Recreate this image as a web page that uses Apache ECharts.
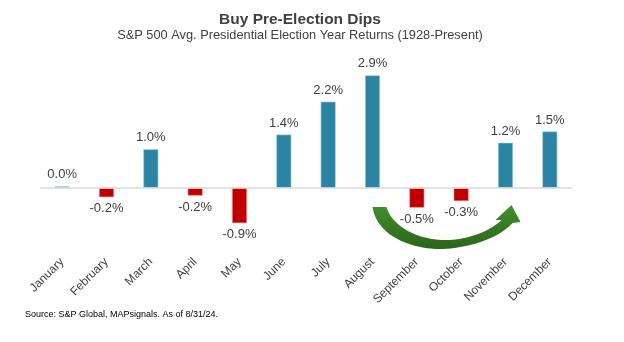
<!DOCTYPE html>
<html>
<head>
<meta charset="utf-8">
<script src="https://cdn.jsdelivr.net/npm/echarts@6/dist/echarts.min.js"></script>
<style>
html,body{margin:0;padding:0;background:#fff;}
#c{width:624px;height:342px;}
</style>
</head>
<body>
<div id="c"></div>
<script>
const months = ['January','February','March','April','May','June','July','August','September','October','November','December'];
const returns = [0.04, -0.24, 1.0, -0.2, -0.91, 1.38, 2.23, 2.91, -0.51, -0.34, 1.17, 1.46];
const titleText = 'Buy Pre-Election Dips';
const subtitleText = 'S&P 500 Avg. Presidential Election Year Returns (1928-Present)';
const sourceText = 'Source: S&P Global, MAPsignals. As of 8/31/24.';

const POS = '#2b84a1', NEG = '#c00000', TXT = '#404040';
const FONT = 'Arial, "Liberation Sans", sans-serif';

const chart = echarts.init(document.getElementById('c'), null, {renderer: 'canvas'});
chart.setOption({
  animation: false,
  backgroundColor: '#fff',
  title: [
    {text: titleText, left: 300, top: 12, textAlign: 'center', padding: 0,
     textStyle: {fontFamily: FONT, fontSize: 15.5, fontWeight: 'bold', color: TXT}},
    {text: subtitleText, left: 300, top: 28.5, textAlign: 'center', padding: 0,
     textStyle: {fontFamily: FONT, fontSize: 12.8, fontWeight: 'normal', color: TXT}},
    {text: sourceText, left: 25, top: 310, padding: 0,
     textStyle: {fontFamily: FONT, fontSize: 9, fontWeight: 'normal', color: '#000'}}
  ],
  grid: {left: 40, right: 52, top: 52.5, bottom: 96, containLabel: false},
  xAxis: {
    type: 'category', data: months,
    axisLine: {show: false}, axisTick: {show: false},
    axisLabel: {rotate: 45, fontSize: 12, color: TXT, fontFamily: FONT, margin: 14, interval: 0}
  },
  yAxis: {type: 'value', min: -1.5, max: 3.5, show: false, splitLine: {show: false}},
  series: [{
    type: 'bar', barWidth: 15,
    data: returns.map(v => ({
      value: v,
      itemStyle: {color: v >= 0 ? POS : NEG, borderColor: v >= 0 ? '#a9d3e0' : '#f0a0a0', borderWidth: 0.6},
      label: {position: v >= 0 ? 'top' : 'bottom'}
    })),
    label: {show: true, distance: 5, fontSize: 13, color: TXT, fontFamily: FONT,
      formatter: p => p.value.toFixed(1) + '%'},
    markLine: {silent: true, symbol: 'none', label: {show: false},
      lineStyle: {color: '#d9d9d9', width: 1.5, type: 'solid'},
      data: [{yAxis: 0}]}
  }]
});

// decorative curved arrow (annotation), anchored to August bar / zero line
function cubic(p0, p1, p2, p3, n) {
  const pts = [];
  for (let i = 1; i <= n; i++) {
    const t = i / n, u = 1 - t;
    pts.push([
      u*u*u*p0[0] + 3*u*u*t*p1[0] + 3*u*t*t*p2[0] + t*t*t*p3[0],
      u*u*u*p0[1] + 3*u*u*t*p1[1] + 3*u*t*t*p2[1] + t*t*t*p3[1]
    ]);
  }
  return pts;
}
const o = chart.convertToPixel({xAxisIndex: 0, yAxisIndex: 0}, ['August', 0]);
let pts = [[0, 19]];
pts = pts.concat(cubic([0,19],[5,52],[47,62],[70,61], 20));
pts = pts.concat(cubic([70,61],[97,60],[127,50],[140,35], 20));
pts.push([148,34],[139,17],[123,32],[129,32]);
pts = pts.concat(cubic([129,32],[117,44],[92,53],[70,52], 20));
pts = pts.concat(cubic([70,52],[42,51],[19,37],[14,19], 20));
pts = pts.map(q => [q[0] + o[0], q[1] + o[1]]);

chart.setOption({
  graphic: [{
    type: 'polygon', z: 10,
    shape: {points: pts},
    style: {fill: {type: 'linear', x: 0, y: 0, x2: 0, y2: 1, colorStops: [
      {offset: 0, color: '#43902a'}, {offset: 1, color: '#2c641b'}]}}
  }]
});
</script>
</body>
</html>
